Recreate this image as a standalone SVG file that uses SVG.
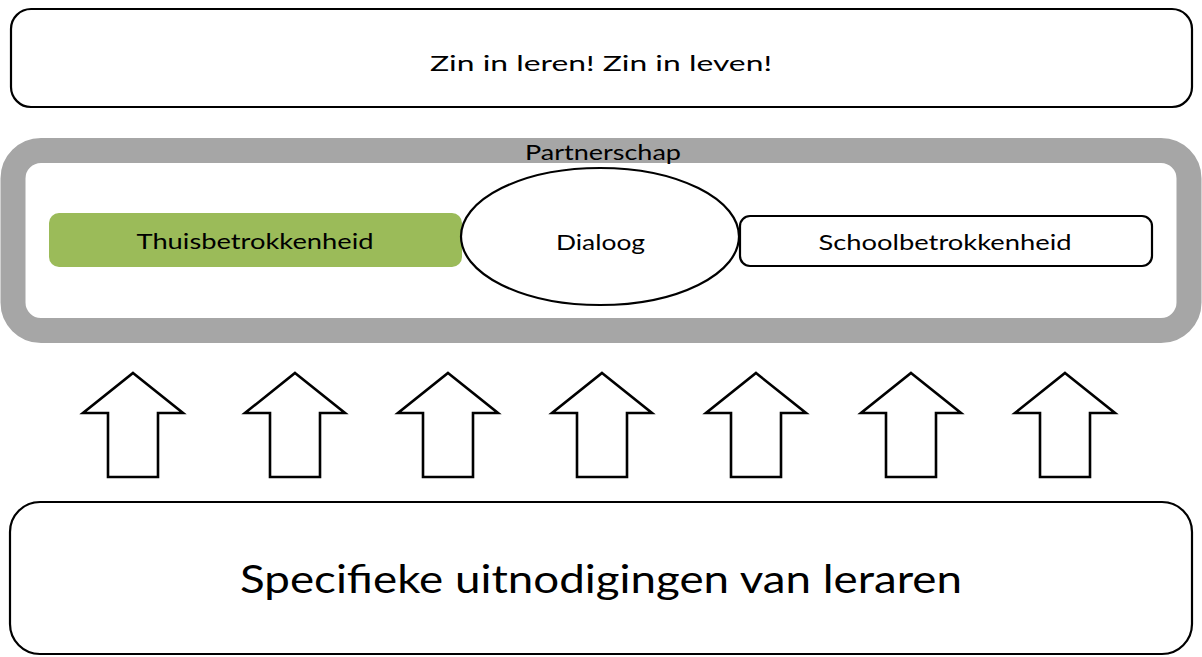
<svg xmlns="http://www.w3.org/2000/svg" xmlns:xlink="http://www.w3.org/1999/xlink" width="1202" height="657" viewBox="0 0 1202 657">
<style>
.box{fill:#ffffff;stroke:#000000;stroke-width:2.2}
.t{font-family:Lato,"Open Sans","Liberation Sans",sans-serif;fill:#000000;text-anchor:middle}
.arrow{fill:#ffffff;stroke:#000000;stroke-width:2.6;stroke-linejoin:miter}
</style>
<defs>
<path id="up" class="arrow" d="M0,373 L50,413 L25,413 L25,477 L-25,477 L-25,413 L-50,413 Z"/>
</defs>
<rect width="1202" height="657" fill="#ffffff"/>
<g id="top">
<rect class="box" x="11" y="9" width="1181" height="98" rx="20"/>
<text class="t" x="601" y="71" font-size="22" textLength="342" lengthAdjust="spacingAndGlyphs">Zin in leren! Zin in leven!</text>
</g>
<g id="partnerschap">
<rect x="13" y="150.5" width="1176" height="180" rx="28" fill="#ffffff" stroke="#a6a6a6" stroke-width="25"/>
<text class="t" x="603" y="160" font-size="21" textLength="156" lengthAdjust="spacingAndGlyphs">Partnerschap</text>
</g>
<g id="thuis">
<rect x="49" y="213" width="413" height="54" rx="10" fill="#9bbb59"/>
<text class="t" x="255" y="248.5" font-size="21" textLength="237" lengthAdjust="spacingAndGlyphs">Thuisbetrokkenheid</text>
</g>
<g id="school">
<rect class="box" x="740" y="216" width="412" height="50" rx="10"/>
<text class="t" x="945" y="250" font-size="21" textLength="253" lengthAdjust="spacingAndGlyphs">Schoolbetrokkenheid</text>
</g>
<g id="dialoog">
<ellipse class="box" cx="600" cy="236.5" rx="139" ry="68.5"/>
<text class="t" x="600.5" y="250" font-size="21" textLength="89" lengthAdjust="spacingAndGlyphs">Dialoog</text>
</g>
<g id="connectors">
<use xlink:href="#up" x="133"/>
<use xlink:href="#up" x="295"/>
<use xlink:href="#up" x="448"/>
<use xlink:href="#up" x="602"/>
<use xlink:href="#up" x="756"/>
<use xlink:href="#up" x="911"/>
<use xlink:href="#up" x="1065"/>
</g>
<g id="bottom">
<rect class="box" x="10" y="502" width="1182" height="152" rx="30"/>
<text class="t" x="601" y="593" font-size="39" textLength="722" lengthAdjust="spacingAndGlyphs">Specifieke uitnodigingen van leraren</text>
</g>
</svg>
